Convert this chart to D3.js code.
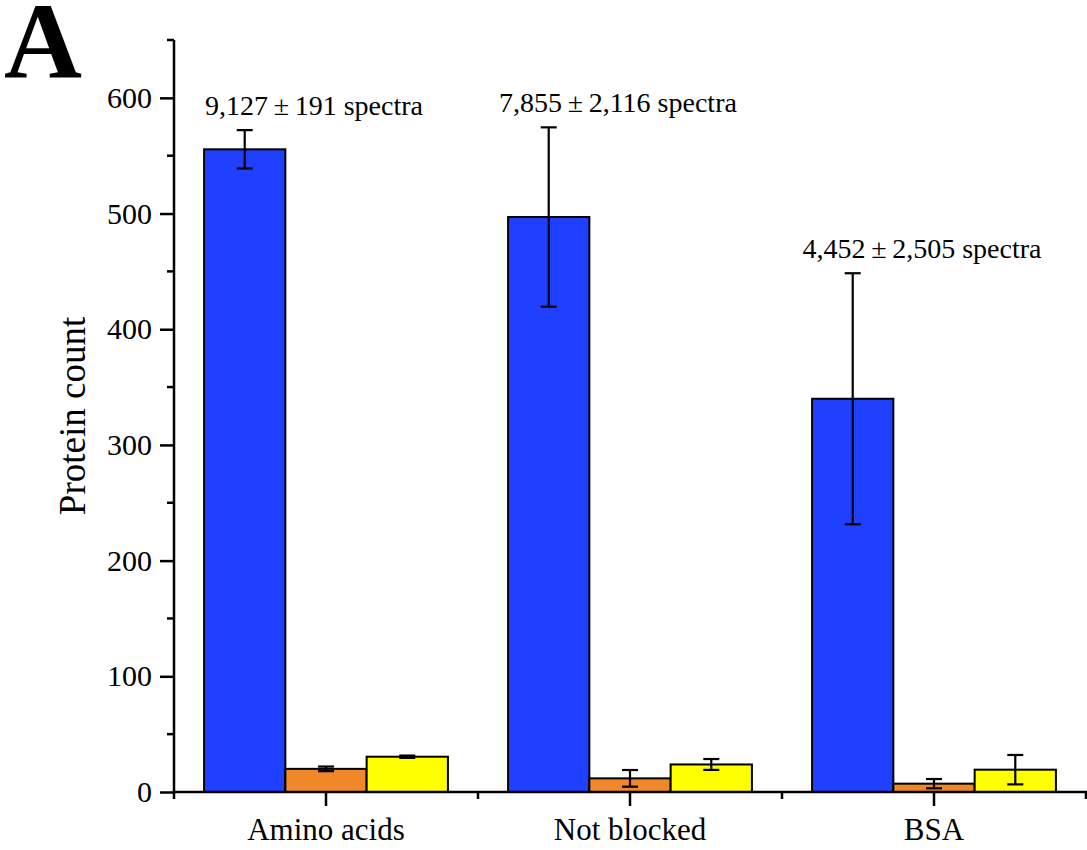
<!DOCTYPE html>
<html>
<head>
<meta charset="utf-8">
<script src="https://cdn.jsdelivr.net/npm/d3@7"></script>
<style>
  html, body { margin: 0; padding: 0; background: #fff; }
  svg { display: block; font-family: "Liberation Serif", "Times New Roman", serif; }
</style>
</head>
<body>
<svg id="chart" width="1087" height="850"></svg>
<script>
const categories = ["Amino acids", "Not blocked", "BSA"];
const seriesNames = ["s1", "s2", "s3"];
const seriesColors = ["#2040FF", "#F0882A", "#FFFF00"];
const values = [
  [555.5, 20, 30.5],
  [497, 11.8, 23.8],
  [339.9, 7.2, 19.3]
];
const errors = [
  [16.6, 2, 1],
  [77.5, 7.2, 4.7],
  [108.5, 4, 12.7]
];
const annotations = ["9,127\u2009±\u2009191 spectra", "7,855\u2009±\u20092,116 spectra", "4,452\u2009±\u20092,505 spectra"];
const yTicks = [0, 100, 200, 300, 400, 500, 600];
const yMinorTicks = [50, 150, 250, 350, 450, 550, 650];

const svg = d3.select("#chart");
const x0 = 174, x1 = 1086, yTop = 40, yBase = 792;

const x = d3.scaleBand().domain(categories).range([x0, x1]).paddingInner(0).paddingOuter(0);
const xs = d3.scaleBand().domain(seriesNames).range([0, x.bandwidth()]).paddingInner(0).paddingOuter(0.37);
const y = d3.scaleLinear().domain([0, 650]).range([yBase, yTop]);

// bars
const groups = svg.append("g").selectAll("g").data(categories).join("g")
  .attr("transform", d => `translate(${x(d)},0)`);

groups.each(function(cat, ci) {
  const g = d3.select(this);
  seriesNames.forEach((s, si) => {
    const v = values[ci][si];
    g.append("rect")
      .attr("x", xs(s))
      .attr("y", y(v))
      .attr("width", xs.bandwidth())
      .attr("height", y(0) - y(v))
      .attr("fill", seriesColors[si])
      .attr("stroke", "#000")
      .attr("stroke-width", 2);
  });
  seriesNames.forEach((s, si) => {
    const v = values[ci][si], e = errors[ci][si];
    const cx = xs(s) + xs.bandwidth() / 2;
    const eg = g.append("g").attr("stroke", "#000").attr("stroke-width", 2.2);
    eg.append("line").attr("x1", cx).attr("x2", cx).attr("y1", y(v + e)).attr("y2", y(v - e));
    eg.append("line").attr("x1", cx - 8).attr("x2", cx + 8).attr("y1", y(v + e)).attr("y2", y(v + e));
    eg.append("line").attr("x1", cx - 8).attr("x2", cx + 8).attr("y1", y(v - e)).attr("y2", y(v - e));
  });
  const topE = values[ci][0] + errors[ci][0];
  g.append("text")
    .attr("x", x.bandwidth() / 2 - 12)
    .attr("y", y(topE) - 15)
    .attr("text-anchor", "middle")
    .attr("font-size", 28)
    .attr("fill", "#000")
    .text(annotations[ci]);
});

// y axis
const yAxis = svg.append("g").attr("transform", `translate(${x0},0)`);
yAxis.append("line").attr("x1", 0).attr("x2", 0).attr("y1", yTop).attr("y2", yBase + 1)
  .attr("stroke", "#000").attr("stroke-width", 2.5);
yAxis.call(d3.axisLeft(y).tickValues(yTicks).tickSize(14).tickPadding(8).tickFormat(d3.format("d")))
  .call(g => g.select(".domain").remove())
  .call(g => g.selectAll(".tick line").attr("stroke-width", 2.5))
  .call(g => g.selectAll(".tick text").attr("font-size", 30).attr("font-family", "Liberation Serif"));
yAxis.selectAll(".minor").data(yMinorTicks).join("line").attr("class", "minor")
  .attr("x1", -7).attr("x2", 0).attr("y1", d => y(d)).attr("y2", d => y(d))
  .attr("stroke", "#000").attr("stroke-width", 2.5);

// x axis
const xAxis = svg.append("g").attr("transform", `translate(0,${yBase})`);
xAxis.append("line").attr("x1", x0 - 1).attr("x2", x1 + 1).attr("y1", 0).attr("y2", 0)
  .attr("stroke", "#000").attr("stroke-width", 2.5);
xAxis.call(d3.axisBottom(x).tickSize(14).tickPadding(12))
  .call(g => g.select(".domain").remove())
  .call(g => g.selectAll(".tick line").attr("stroke-width", 2.5))
  .call(g => g.selectAll(".tick text").attr("font-size", 31).attr("font-family", "Liberation Serif"));
const bounds = categories.map(c => x(c)).concat([x(categories[categories.length - 1]) + x.bandwidth()]);
xAxis.selectAll(".minor").data(bounds).join("line").attr("class", "minor")
  .attr("x1", d => d).attr("x2", d => d).attr("y1", 0).attr("y2", 7)
  .attr("stroke", "#000").attr("stroke-width", 2.5);

// y label
svg.append("text")
  .attr("transform", `translate(85,${(yTop + yBase) / 2}) rotate(-90)`)
  .attr("text-anchor", "middle")
  .attr("font-size", 37)
  .text("Protein count");

// panel letter
svg.append("text").attr("x", 4).attr("y", 78).attr("font-size", 108).attr("font-weight", "bold").text("A");
</script>
</body>
</html>
